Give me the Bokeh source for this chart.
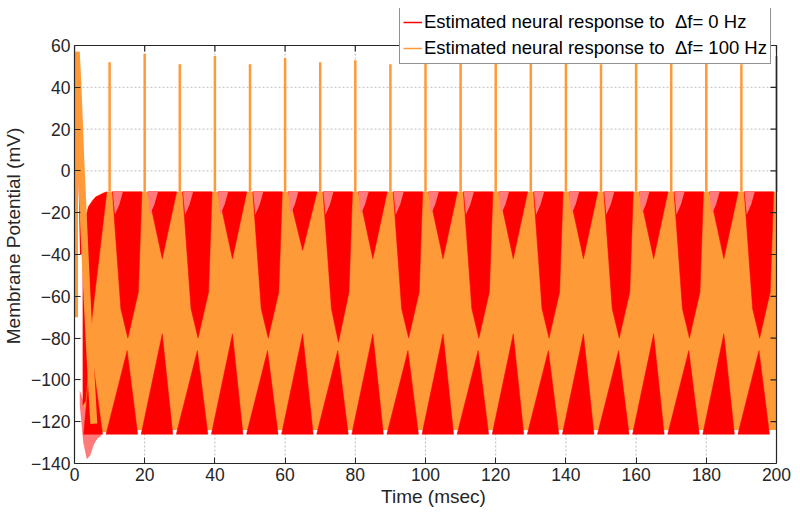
from bokeh.plotting import figure
from bokeh.models import (Range1d, LinearAxis, FixedTicker, Legend, LegendItem)
from bokeh.embed import file_html
from bokeh.resources import INLINE

# ---------------- data ----------------
# red: response to df = 0 Hz (dense oscillation -> envelope)
red_t     = [2.4, 3.0, 4.0, 5.0, 6.0, 7.0, 8.0, 9.0, 10.0, 12.0, 200.0]
red_upper = [-28, -22, -17, -14, -12.5, -11.5, -10.5, -10, -10, -10, -10]
red_lower = [-112, -116, -119, -122, -124, -126, -127, -127, -126.5, -126, -126]
# light (sparse) part of the red trace during the onset undershoot
pink_t     = [1.5, 2.5, 3.5, 4.5, 5.5, 6.5, 7.5]
pink_upper = [-105, -110, -114, -118, -121, -124, -126]
pink_lower = [-112, -130, -138, -136, -131, -128, -127]
# red onset spike
red_init_t = [0.0, 0.3, 0.8, 1.4, 2.0, 2.4]
red_init_v = [-20, 48, 30, 8, -40, -28]

# orange: response to df = 100 Hz
spike_times = [10, 20, 30, 40, 50, 60, 70, 80, 90, 100,
               110, 120, 130, 140, 150, 160, 170, 180, 190, 200]
spike_peaks = [52, 56, 51, 55, 51, 54, 52, 53, 51, 53,
               52, 54, 52, 53, 51, 54, 52, 53, 51, 55]
# between consecutive bursts the red trace shows through from the top (down to
# gap_top_apex) and from the bottom (up to gap_bottom_apex); gaps start at 0,10,...,190
gap_start = [0, 10, 20, 30, 40, 50, 60, 70, 80, 90,
             100, 110, 120, 130, 140, 150, 160, 170, 180, 190]
gap_top_apex = [-70, -80, -42, -80, -42, -80, -38, -82, -42, -80,
                -42, -80, -42, -80, -42, -80, -42, -80, -42, -80]
gap_bottom_apex = [-86, -86, -78, -86, -78, -86, -78, -86, -78, -86,
                   -78, -86, -78, -86, -78, -86, -78, -86, -78, -86]
orange_init_t = [0.0, 0.0, 0.5, 1.0, 1.8, 3.0, 4.3, 5.5]
orange_init_v = [-70, 30, 57, 40, 5, -40, -85, -121]

x_ticks = [0, 20, 40, 60, 80, 100, 120, 140, 160, 180, 200]
y_ticks = [-140, -120, -100, -80, -60, -40, -20, 0, 20, 40, 60]

RED = "#FF0000"
PINK = "#FF7A7A"
ORANGE = "#FF9A38"
AX = "#262626"
GRID = "#bdbdbd"
FONT = "Liberation Sans"

X_LO, X_HI = 0, 200
Y_TOP, Y_BOT = 60, -140
FRAME_H, FRAME_W = 455, 718
PX_Y = 418 / (Y_TOP - Y_BOT)
PX_X = 702 / (X_HI - X_LO)
Y_VIEW_TOP = Y_BOT + FRAME_H / PX_Y      # room above the axes for the legend
X_VIEW_HI = X_LO + FRAME_W / PX_X        # room right of the axes for the legend

p = figure(frame_width=FRAME_W, frame_height=FRAME_H,
           output_backend="svg", toolbar_location=None,
           x_range=Range1d(X_LO, X_VIEW_HI), y_range=Range1d(Y_BOT, Y_VIEW_TOP),
           min_border_left=67, min_border_right=0, min_border_top=8,
           min_border_bottom=56)
p.xaxis.visible = False
p.yaxis.visible = False
p.outline_line_color = None
p.xgrid.visible = False
p.ygrid.visible = False

# axes
xa = LinearAxis(ticker=FixedTicker(ticks=x_ticks), axis_label="Time (msec)",
                bounds=(X_LO, X_HI))
ya = LinearAxis(ticker=FixedTicker(ticks=y_ticks), axis_label="Membrane Potential (mV)",
                bounds=(Y_BOT, Y_TOP))
for ax in (xa, ya):
    ax.axis_line_color = AX
    ax.axis_line_width = 1.2
    ax.major_tick_line_color = AX
    ax.major_tick_in = 6
    ax.major_tick_out = 0
    ax.minor_tick_line_color = None
    ax.major_label_text_font = FONT
    ax.major_label_text_color = AX
    ax.major_label_text_font_size = "17.5px"
    ax.axis_label_text_font = FONT
    ax.axis_label_text_font_style = "normal"
    ax.axis_label_text_color = AX
    ax.axis_label_text_font_size = "19px"
xa.major_label_standoff = 4
xa.axis_label_standoff = 2
ya.major_label_standoff = 4
ya.axis_label_standoff = 4
p.add_layout(xa, "below")
p.add_layout(ya, "left")

# grid (dotted)
gx = x_ticks[1:-1]
gy = y_ticks[1:-1]
p.segment(x0=gx, y0=[Y_BOT] * len(gx), x1=gx, y1=[Y_TOP] * len(gx),
          line_color=GRID, line_dash="2 2", line_width=1)
p.segment(x0=[X_LO] * len(gy), y0=gy, x1=[X_HI] * len(gy), y1=gy,
          line_color=GRID, line_dash="2 2", line_width=1)

# ---- traces ----
# onset undershoot (light red)
p.varea(x=pink_t, y1=pink_lower, y2=pink_upper, fill_color=PINK)
# orange band where the bursts cover the red oscillation
band_lower = [v + 2 for v in red_lower]
p.varea(x=red_t, y1=band_lower, y2=red_upper, fill_color=ORANGE)
# red shows between bursts: from the top and from the bottom
top_xs, top_ys, bot_xs, bot_ys = [], [], [], []
for i, g in enumerate(gap_start):
    g_end = g + 10
    a_top, a_bot = gap_top_apex[i], gap_bottom_apex[i]
    if g == 0:
        top_xs.append([red_t[0], red_t[2], red_t[4], g_end - 0.8, 5.0, 3.2, red_t[0]])
        top_ys.append([red_upper[0], red_upper[2], red_upper[4], red_upper[-1],
                       a_top, -110, red_lower[0]])
        bot_xs.append([2.6, g_end - 2.0, 4.8])
    elif a_top < -60:      # deep, wide gap
        top_xs.append([g + 0.8, g_end - 0.8, g_end - 1.8, g + 5.2, g + 3.2])
        top_ys.append([red_upper[-1], red_upper[-1], -58, a_top, -66])
    else:                  # shallow gap
        top_xs.append([g + 0.9, g_end - 0.9, g + 5.0])
        top_ys.append([red_upper[-1], red_upper[-1], a_top])
    if g > 0:
        bot_xs.append([g - 1.0, g_end - 2.0, g + 5.0])
    bot_ys.append([red_lower[-1], red_lower[-1], a_bot])
p.patches(xs=top_xs, ys=top_ys, fill_color=RED, line_color=RED, line_width=0.5)
p.patches(xs=bot_xs, ys=bot_ys, fill_color=RED, line_color=RED, line_width=0.5)
# light stripes of sparse red just after each spike (top of the band)
lx, ly = [], []
for t in spike_times[:-1]:
    lx.append([t + 0.9, t + 3.8, t + 2.8, t + 1.5])
    ly.append([red_upper[-1], red_upper[-1], -16, -21])
p.patches(xs=lx, ys=ly, fill_color=PINK, line_color=None)
# red onset spike
p.line(x=red_init_t, y=red_init_v, line_color=RED, line_width=3)
# orange onset and spikes
p.line(x=orange_init_t, y=orange_init_v, line_color=ORANGE, line_width=7)
p.segment(x0=spike_times, y0=[red_upper[-1]] * len(spike_times),
          x1=spike_times, y1=spike_peaks, line_color=ORANGE, line_width=2.5)

# top and right borders of the axes with inward ticks
p.line(x=[X_LO, X_HI, X_HI], y=[Y_TOP, Y_TOP, Y_BOT], line_color=AX, line_width=1.2)
p.segment(x0=x_ticks, y0=[Y_TOP] * len(x_ticks), x1=x_ticks,
          y1=[Y_TOP - 6 / PX_Y] * len(x_ticks), line_color=AX, line_width=1.2)
p.segment(x0=[X_HI] * len(y_ticks), y0=y_ticks, x1=[X_HI - 6 / PX_X] * len(y_ticks),
          y1=y_ticks, line_color=AX, line_width=1.2)

# legend
l_red = p.line(x=[-10, -9], y=[0, 0], line_color=RED, line_width=1.5)
l_or = p.line(x=[-10, -9], y=[0, 0], line_color=ORANGE, line_width=1.5)
legend = Legend(items=[
    LegendItem(label="Estimated neural response to  \u0394f= 0 Hz", renderers=[l_red]),
    LegendItem(label="Estimated neural response to  \u0394f= 100 Hz", renderers=[l_or]),
], location=(325, 399))
legend.label_text_font = FONT
legend.label_text_font_size = "18.5px"
legend.label_text_color = "#000000"
legend.border_line_color = AX
legend.border_line_width = 1
legend.background_fill_alpha = 1
legend.padding = 3
legend.spacing = 2
legend.margin = 0
legend.glyph_width = 19
legend.label_standoff = 2
legend.label_height = 24
legend.glyph_height = 24
p.add_layout(legend, "center")

open("out.html", "w").write(file_html(p, INLINE))
